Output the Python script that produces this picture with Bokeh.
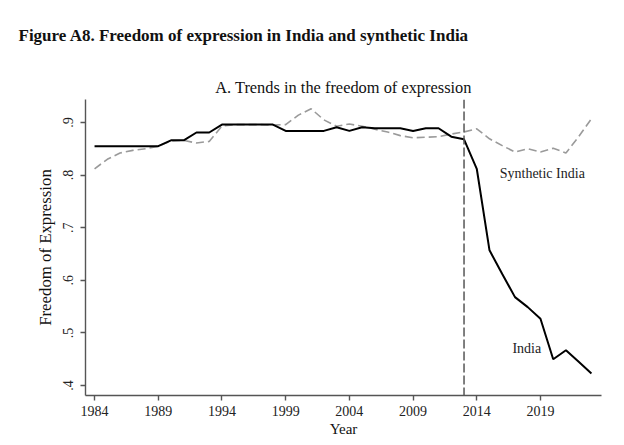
from bokeh.plotting import figure
from bokeh.models import Range1d, FixedTicker, Span, Label, Title
from bokeh.embed import file_html
from bokeh.resources import INLINE

# ---- data ----
years = list(range(1984, 2024))
india = [0.855, 0.855, 0.855, 0.855, 0.855, 0.855, 0.866, 0.866, 0.881, 0.881,
         0.896, 0.896, 0.896, 0.896, 0.896, 0.884, 0.884, 0.884, 0.884, 0.891,
         0.884, 0.891, 0.889, 0.889, 0.889, 0.884, 0.889, 0.889, 0.873, 0.868,
         0.812, 0.657, 0.612, 0.568, 0.549, 0.527, 0.450, 0.467, 0.445, 0.423]
synthetic = [0.812, 0.830, 0.842, 0.847, 0.850, 0.855, 0.865, 0.866, 0.861, 0.864,
             0.893, 0.896, 0.896, 0.896, 0.895, 0.896, 0.914, 0.926, 0.905, 0.893,
             0.897, 0.893, 0.887, 0.882, 0.875, 0.871, 0.872, 0.873, 0.878, 0.882,
             0.888, 0.869, 0.856, 0.844, 0.850, 0.844, 0.851, 0.842, 0.873, 0.907]
treatment_year = 2013
xticks = [1984, 1989, 1994, 1999, 2004, 2009, 2014, 2019]
yticks = [0.4, 0.5, 0.6, 0.7, 0.8, 0.9]
ytick_labels = [".4", ".5", ".6", ".7", ".8", ".9"]

fig_title = "Figure A8. Freedom of expression in India and synthetic India"
sub_title = "A. Trends in the freedom of expression"
x_label = "Year"
y_label = "Freedom of Expression"
india_name = "India"
synth_name = "Synthetic India"

FONT = "Liberation Serif"
AX = "#555555"

x0, x1 = 1983.29, 2023.79
y0, y1 = 0.381, 0.9437

p = figure(width=616, height=441, output_backend="svg", toolbar_location=None,
           x_range=Range1d(x0, x1), y_range=Range1d(y0, y1),
           min_border_left=85, min_border_right=15, min_border_top=99, min_border_bottom=46)
p.outline_line_color = None
p.xgrid.visible = False
p.ygrid.visible = False
p.background_fill_color = "white"
p.border_fill_color = "white"

# figure title (outermost)
p.title.text = fig_title
p.title.align = "left"
p.title.offset = -67
p.title.text_font = FONT
p.title.text_font_size = "17px"
p.title.text_font_style = "bold"
p.title.text_color = "#111111"
p.title.vertical_align = "top"
p.title.standoff = 4

# subtitle (closest to frame)
p.add_layout(Title(text=sub_title, align="center", text_font=FONT,
                   text_font_size="16.4px", text_font_style="normal", text_color="#111111",
                   standoff=5), "above")

# blank spacer between the two titles
p.add_layout(Title(text=" ", text_font=FONT, text_font_size="12px", standoff=9), "above")

for ax in (p.xaxis[0], p.yaxis[0]):
    ax.axis_line_color = AX
    ax.axis_line_width = 1.4
    ax.major_tick_line_color = AX
    ax.major_tick_line_width = 1.4
    ax.major_tick_out = 5
    ax.major_tick_in = 0
    ax.minor_tick_line_color = None
    ax.major_label_text_font = FONT
    ax.major_label_text_font_size = "14px"
    ax.major_label_text_color = "#222222"
    ax.axis_label_text_font = FONT
    ax.axis_label_text_font_style = "normal"
    ax.axis_label_text_color = "#111111"
    ax.major_label_standoff = 5

p.xaxis.ticker = FixedTicker(ticks=xticks)
p.yaxis.ticker = FixedTicker(ticks=yticks)
p.yaxis.major_label_overrides = {t: s for t, s in zip(yticks, ytick_labels)}
p.yaxis.major_label_orientation = "vertical"
p.yaxis.major_label_standoff = 7
p.xaxis.axis_label = x_label
p.yaxis.axis_label = y_label
p.xaxis.axis_label_text_font_size = "15px"
p.yaxis.axis_label_text_font_size = "16.8px"
p.xaxis.axis_label_standoff = 2
p.yaxis.axis_label_standoff = 6

p.line(years, synthetic, line_color="#9a9a9a", line_width=1.6, line_dash="8 4")
p.line(years, india, line_color="black", line_width=2.0)

p.add_layout(Span(location=treatment_year, dimension="height", line_color="#555555",
                  line_width=1.5, line_dash="9 3"))

p.add_layout(Label(x=2015.8, y=0.803, text=synth_name, text_font=FONT,
                   text_font_size="14px", text_baseline="middle", text_align="left",
                   text_color="#222222"))
p.add_layout(Label(x=2016.8, y=0.471, text=india_name, text_font=FONT,
                   text_font_size="14px", text_baseline="middle", text_align="left",
                   text_color="#222222"))

open("out.html", "w").write(file_html(p, INLINE))
